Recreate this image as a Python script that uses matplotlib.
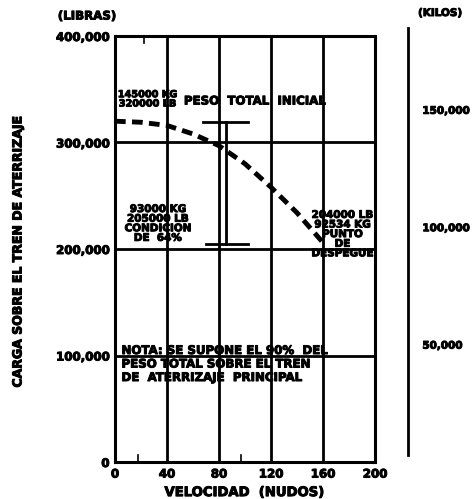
import matplotlib
matplotlib.use("Agg")
import matplotlib.pyplot as plt
import matplotlib.patheffects as pe
import numpy as np

# Data
speed_kt = [0, 20, 40, 60, 80, 100, 120, 140, 160]
load_lb = [320000, 319000, 316000, 308000, 297000, 280000, 258000, 234000, 206000]
bar_speed = 85
bar_top = 319000
bar_bottom = 205000
x_ticks = [0, 40, 80, 120, 160, 200]
x_tick_labels = ["0", "40", "80", "120", "160", "200"]
y_ticks = [0, 100000, 200000, 300000, 400000]
y_tick_labels = ["0", "100,000", "200,000", "300,000", "400,000"]
kg_ticks = [50000, 100000, 150000]
kg_tick_labels = ["50,000", "100,000", "150,000"]
LB_PER_KG = 2.20462

W, H = 475, 499
fig = plt.figure(figsize=(W/100, H/100), dpi=100)
plt.rcParams['font.family'] = ['DejaVu Sans']
thick = [pe.withStroke(linewidth=0.7, foreground='black')]

def fx(px): return px / W
def fy(py): return 1 - py / H

L, R, T, B = 115, 375, 36, 462
ax = fig.add_axes([fx(L), fy(B), fx(R) - fx(L), fy(T) - fy(B)])
ax.set_xlim(0, 200)
ax.set_ylim(0, 400000)
for s in ax.spines.values():
    s.set_linewidth(2.2)
    s.set_color('black')
ax.set_xticks(x_ticks)
ax.set_xticklabels(x_tick_labels)
ax.set_yticks(y_ticks)
ax.set_yticklabels(y_tick_labels)
ax.tick_params(length=0, labelsize=8.5, pad=4)
for lab in ax.get_xticklabels() + ax.get_yticklabels():
    lab.set_fontweight('heavy')
    lab.set_path_effects(thick)
ax.grid(True, color='black', linewidth=2.0)
ax.set_axisbelow(False)

# small inward marks on the frame
ax.plot([18, 18], [0, 7000], color='black', linewidth=1.2)
ax.plot([97, 97], [0, 7000], color='black', linewidth=1.2)
ax.plot([22, 22], [400000, 393000], color='black', linewidth=1.2)

# curve
ax.plot(speed_kt, load_lb, color='black', linewidth=3.5, dashes=(2.2, 1.3),
        solid_capstyle='butt', dash_capstyle='butt')
# bar marker
ax.plot([bar_speed, bar_speed], [bar_bottom, bar_top], color='black', linewidth=2.0)
ax.plot([bar_speed - 17, bar_speed + 17], [bar_top, bar_top], color='black', linewidth=2.0)
ax.plot([bar_speed - 15, bar_speed + 17], [bar_bottom, bar_bottom], color='black', linewidth=2.0)

tk = dict(fontsize=7.5, fontweight='heavy', color='black', path_effects=thick)
ax.text(25, 341000, "145000 KG\n320000 LB", ha='center', va='center', linespacing=0.9,
        **{**tk, 'fontsize': 7})
ax.text(53, 339000, "PESO  TOTAL  INICIAL", ha='left', va='center',
        **{**tk, 'fontsize': 8.5})
ax.text(33, 224000, "93000 KG\n205000 LB\nCONDICION\nDE  64%", ha='center', va='center',
        linespacing=0.95, **tk)
ax.text(175, 214000, "204000 LB\n92534 KG\nPUNTO\nDE\nDESPEGUE", ha='center', va='center',
        linespacing=0.95, **tk)
ax.text(5, 92000, "NOTA: SE SUPONE EL 90%  DEL\nPESO TOTAL SOBRE EL TREN\nDE  ATERRIZAJE  PRINCIPAL",
        ha='left', va='center', linespacing=1.05, **{**tk, 'fontsize': 8.5})

xl = ax.set_xlabel("VELOCIDAD  (NUDOS)", fontsize=9.5, fontweight='heavy', labelpad=4)
xl.set_path_effects(thick)
fig.text(fx(18), fy(252), "CARGA SOBRE EL TREN DE ATERRIZAJE", rotation=90,
         ha='center', va='center', fontsize=9, fontweight='heavy', path_effects=thick)
fig.text(fx(87), fy(16), "(LIBRAS)", ha='center', va='center', fontsize=8.5,
         fontweight='heavy', path_effects=thick)
fig.text(fx(440), fy(13), "(KILOS)", ha='center', va='center', fontsize=7.5,
         fontweight='heavy', path_effects=thick)

# kilos axis
RX = 408
ax2 = fig.add_axes([fx(RX), fy(B), 0.001, fy(T) - fy(B)])
ax2.set_ylim(0, 400000 / LB_PER_KG)
ax2.set_xticks([])
for k in ['top', 'bottom', 'right']:
    ax2.spines[k].set_visible(False)
ax2.spines['left'].set_linewidth(2.0)
ax2.spines['left'].set_bounds(3000, 185000)
ax2.yaxis.tick_right()
ax2.set_yticks(kg_ticks)
ax2.set_yticklabels(kg_tick_labels)
ax2.tick_params(length=0, labelsize=7.5, pad=10)
for lab in ax2.get_yticklabels():
    lab.set_fontweight('heavy')
    lab.set_path_effects(thick)
ax2.patch.set_visible(False)

fig.savefig("out.png", dpi=100)
